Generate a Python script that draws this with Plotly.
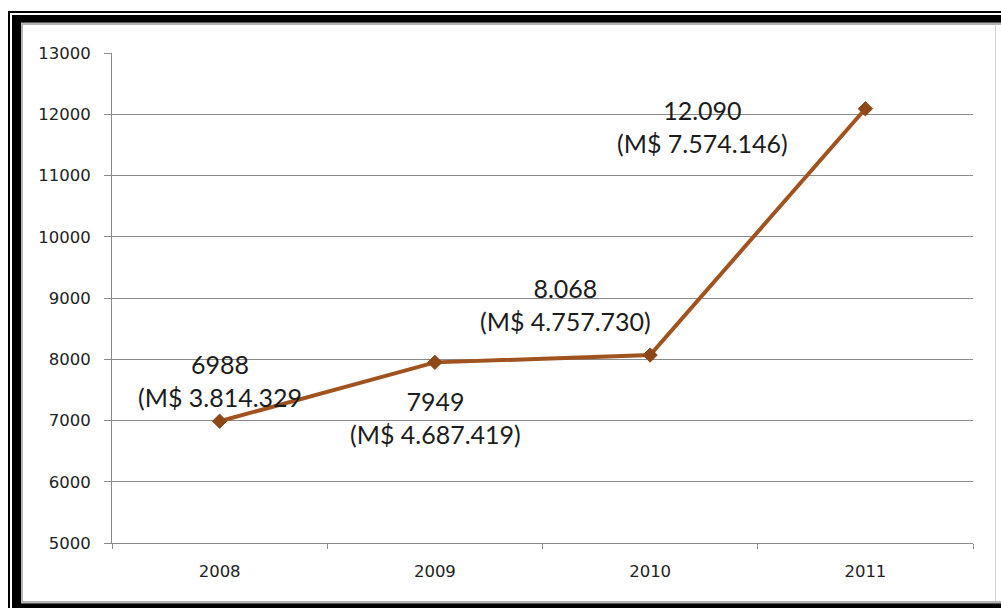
import plotly.graph_objects as go

# Yearly totals and the amounts shown beside each point
years = ["2008", "2009", "2010", "2011"]
totals = [6988, 7949, 8068, 12090]
value_text = ["6988", "7949", "8.068", "12.090"]
amount_text = ["(M$ 3.814.329", "(M$ 4.687.419)", "(M$ 4.757.730)", "(M$ 7.574.146)"]
y_ticks = [5000, 6000, 7000, 8000, 9000, 10000, 11000, 12000, 13000]

# label offsets (pixels) relative to each point
label_dx = [0, 1, -85, -163]
label_dy = [41, -55, 50.5, -18]

W, H = 1001, 608


def px(x):
    return x / W


def py(y):
    return 1 - y / H


LINE = "#a0531f"
MARK = "#8e4719"
GRID = "#8a8a8a"

fig = go.Figure()
fig.add_trace(go.Scatter(
    x=years, y=totals, mode="lines+markers",
    line=dict(color=LINE, width=4),
    marker=dict(symbol="diamond", size=11, color=MARK,
                line=dict(color=MARK, width=1)),
    hoverinfo="skip", showlegend=False,
))

# value labels, anchored on each category's index
for i, (v, vt, at, dx, dy) in enumerate(zip(totals, value_text, amount_text, label_dx, label_dy)):
    fig.add_annotation(
        x=i, y=v, xref="x", yref="y", text=vt + "<br>" + at,
        showarrow=False, xshift=dx, yshift=dy, align="center",
        font=dict(family="Lato", size=25, color="#1c1c1c"),
    )

# double black frame with a light grey inner edge
shapes = [
    dict(type="rect", xref="paper", yref="paper", x0=px(8), x1=px(1020), y0=py(11), y1=py(640),
         fillcolor="black", line=dict(width=0), layer="below"),
    dict(type="rect", xref="paper", yref="paper", x0=px(10), x1=px(1020), y0=py(13), y1=py(630),
         fillcolor="white", line=dict(width=0), layer="below"),
    dict(type="rect", xref="paper", yref="paper", x0=px(12), x1=px(1020), y0=py(15), y1=py(630),
         fillcolor="black", line=dict(width=0), layer="below"),
    dict(type="rect", xref="paper", yref="paper", x0=px(21), x1=px(1020), y0=py(22.5), y1=py(603.5),
         fillcolor="#b4b4b4", line=dict(width=0), layer="below"),
    dict(type="rect", xref="paper", yref="paper", x0=px(23), x1=px(1020), y0=py(25), y1=py(601),
         fillcolor="white", line=dict(width=0), layer="below"),
    dict(type="line", xref="paper", yref="paper", x0=px(995.5), x1=px(995.5), y0=py(25), y1=py(601),
         line=dict(color="#d0d0d0", width=1), layer="below"),
]

tick_font = dict(family="DejaVu Sans", size=16.5, color="#222222")

fig.update_layout(
    width=W, height=H,
    margin=dict(l=0, r=0, t=0, b=0),
    paper_bgcolor="white",
    plot_bgcolor="rgba(0,0,0,0)",
    showlegend=False,
    shapes=shapes,
    xaxis=dict(
        domain=[px(112), px(973)],
        type="category", range=[-0.5, 3.5],
        showgrid=False, zeroline=False,
        showline=True, linecolor=GRID, linewidth=1,
        ticks="outside", tickson="boundaries", ticklen=5, tickcolor=GRID, tickwidth=1,
        tickfont=tick_font, ticklabelstandoff=13,
        automargin=False, fixedrange=True,
    ),
    yaxis=dict(
        domain=[py(543), py(53)],
        range=[5000, 13000],
        tickvals=y_ticks, ticktext=[str(t) for t in y_ticks],
        showgrid=True, gridcolor=GRID, gridwidth=1,
        zeroline=False,
        showline=True, linecolor=GRID, linewidth=1,
        ticks="outside", ticklen=7, tickcolor=GRID, tickwidth=1,
        tickfont=tick_font, ticklabelstandoff=10,
        automargin=False, fixedrange=True,
    ),
)

fig.write_html("out.html", config={"displayModeBar": False})
